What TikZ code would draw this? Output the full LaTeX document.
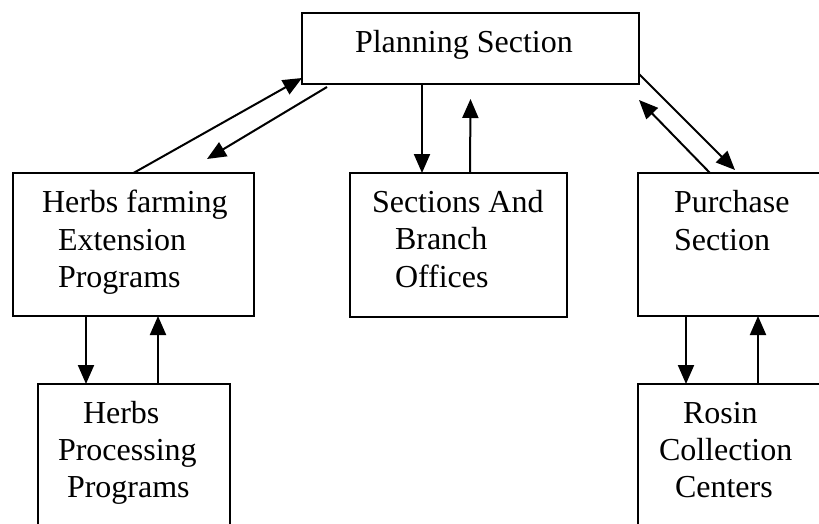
\documentclass[tikz,border=0pt]{standalone}
\usepackage{fontspec}
\setmainfont{Liberation Serif}
\usetikzlibrary{arrows.meta}

\tikzset{
  box/.style={draw, line width=2pt, inner sep=0pt, outer sep=0pt},
  label/.style={anchor=base west, inner sep=0pt, outer sep=0pt,
                font=\fontsize{32}{37}\selectfont},
  link/.style={line width=2pt, -{Triangle[length=19pt,width=16pt]}},
}

\begin{document}
\begin{tikzpicture}[x=1pt, y=-1pt]
  \clip (0,0) rectangle (819,524);
  \fill[white] (0,0) rectangle (819,524);

  % boxes
  \node[box, minimum width=337pt, minimum height=71pt]  (plan)  at (470.5,48.5) {};
  \node[box, minimum width=241pt, minimum height=143pt] (herb)  at (133.5,244.5) {};
  \node[box, minimum width=217pt, minimum height=144pt] (sect)  at (458.5,245) {};
  \node[box, minimum width=202pt, minimum height=143pt] (purch) at (739,244.5) {};
  \node[box, minimum width=192pt, minimum height=161pt] (hproc) at (134,464.5) {};
  \node[box, minimum width=202pt, minimum height=161pt] (rosin) at (739,464.5) {};

  % labels
  \node[label] (tplan) at (355,53) {Planning Section};

  \node[label] (th1) at (42,212) {Herbs farming};
  \node[label] (th2) at (58,250) {Extension};
  \node[label] (th3) at (58,287) {Programs};

  \node[label] (ts1) at (372,212) {Sections And};
  \node[label] (ts2) at (395,249) {Branch};
  \node[label] (ts3) at (395,287) {Offices};

  \node[label] (tp1) at (674,212) {Purchase};
  \node[label] (tp2) at (674,250) {Section};

  \node[label] (tq1) at (83,423) {Herbs};
  \node[label] (tq2) at (58,460) {Processing};
  \node[label] (tq3) at (67,497) {Programs};

  \node[label] (tr1) at (683,423) {Rosin};
  \node[label] (tr2) at (659,460) {Collection};
  \node[label] (tr3) at (675,497) {Centers};

  % planning <-> herbs farming
  \draw[link] (herb.north) -- ([yshift=6pt]plan.south west);
  \draw[link] ([xshift=25pt,yshift=-3pt]plan.south west) -- ([xshift=73.5pt,yshift=14pt]herb.north);

  % planning <-> sections
  \draw[link] ([xshift=-36.5pt]sect.north |- plan.south) -- ([xshift=-36.5pt]sect.north);
  \draw[link] ([xshift=11.5pt]sect.north) -- ([yshift=-15pt]plan.south);

  % planning <-> purchase
  \draw[link] ([yshift=10pt]plan.south east) -- ([xshift=-4pt,yshift=3pt]purch.north);
  \draw[link] ([xshift=-29pt]purch.north) -- ([yshift=-16pt]plan.south east);

  % herbs farming <-> processing
  \draw[link] ([xshift=-47.5pt]herb.south) -- ([xshift=-47.5pt]herb.south |- hproc.north);
  \draw[link] ([xshift=24pt]hproc.north) -- ([xshift=24pt]hproc.north |- herb.south);

  % purchase <-> rosin
  \draw[link] ([xshift=-53pt]purch.south) -- ([xshift=-53pt]purch.south |- rosin.north);
  \draw[link] ([xshift=19pt]rosin.north) -- ([xshift=19pt]rosin.north |- purch.south);
\end{tikzpicture}
\end{document}
